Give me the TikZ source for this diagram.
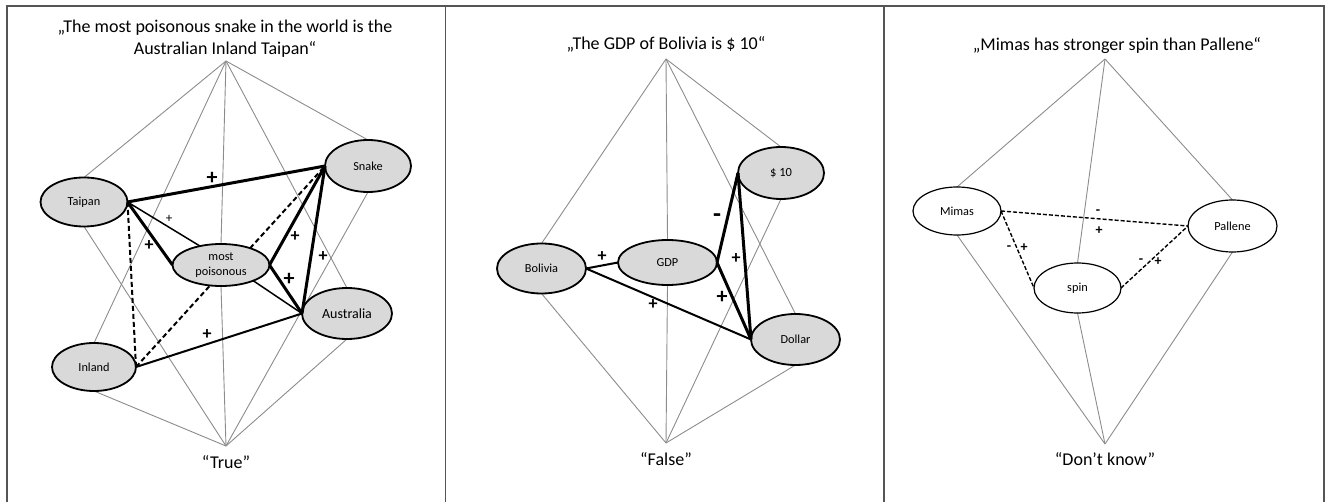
\documentclass[tikz,border=0pt]{standalone}
\usepackage{fontspec}
\setmainfont{Carlito}
\usetikzlibrary{shapes.geometric,backgrounds}
\definecolor{linkgray}{RGB}{140,140,140}
\definecolor{nodefill}{RGB}{217,217,217}
\definecolor{framegray}{RGB}{85,85,85}

\begin{document}
\begin{tikzpicture}[x=1pt,y=-1pt,
  concept/.style={ellipse, draw, line width=1.8pt, fill=nodefill, inner sep=0pt, outer sep=0pt,
    font=\fontsize{12.3}{14.5}\selectfont, align=center},
  plainconcept/.style={ellipse, draw, line width=1.2pt, fill=white, inner sep=0pt, outer sep=0pt,
    font=\fontsize{12.3}{14.5}\selectfont, align=center},
  headline/.style={inner sep=0pt, align=center, font=\fontsize{18}{22}\selectfont},
  verdict/.style={inner sep=0pt, font=\fontsize{18}{22}\selectfont},
  lnkgray/.style={draw=linkgray, line width=0.9pt},
  lnkthin/.style={draw=black, line width=1.5pt},
  lnkmed/.style={draw=black, line width=2pt},
  lnkthick/.style={draw=black, line width=3pt},
  lnkdash/.style={draw=black, line width=2pt, dash pattern=on 5pt off 3pt},
  lnkdashthin/.style={draw=black, line width=1.4pt, dash pattern=on 4pt off 2pt},
  sgnbig/.style={inner sep=0pt, font=\bfseries\fontsize{22}{22}\selectfont},
  sgnmed/.style={inner sep=0pt, font=\bfseries\fontsize{18}{18}\selectfont},
  sgnsmall/.style={inner sep=0pt, font=\fontsize{13}{13}\selectfont},
  sgnopen/.style={inner sep=0pt, font=\bfseries\fontsize{14}{14}\selectfont},
]
\useasboundingbox (0,0) rectangle (1325,502);

% frame and panel dividers
\draw[framegray, line width=1.6pt] (7,502) -- (7,6) -- (1324,6) -- (1324,502);
\draw[framegray, line width=1.6pt] (445.5,6) -- (445.5,502);
\draw[framegray, line width=1.6pt] (884,6) -- (884,502);

% ---------- panel 1 ----------
\node[headline] (h1) at (225,39) {„The most poisonous snake in the world is the\\Australian Inland Taipan“};
\coordinate (top1) at (226,61);
\coordinate (bot1) at (226,446);
\node[verdict] (v1) at (226,462) {“True”};

\node[concept, minimum width=87pt, minimum height=49pt] (taipan) at (84,202) {Taipan};
\node[concept, minimum width=86pt, minimum height=52pt] (snake) at (368,166) {Snake};
\node[concept, minimum width=97pt, minimum height=42pt] (mp) at (221,265) {most\\poisonous};
\node[concept, minimum width=90pt, minimum height=51pt, font=\fontsize{14}{16}\selectfont] (australia) at (347,313.5) {Australia};
\node[concept, minimum width=84pt, minimum height=48pt] (inland) at (94,367) {Inland};

\begin{scope}[on background layer]
  \foreach \n in {taipan,inland,mp,australia,snake} {
    \draw[lnkgray] (top1) -- (\n.north);
    \draw[lnkgray] (bot1) -- (\n.south);
  }
\end{scope}

\draw[lnkthick] (taipan.east) -- (snake.west);
\draw[lnkthin] (taipan.east) -- (mp.138);
\draw[lnkthick] (taipan.east) -- (mp.west);
\draw[lnkdash] (taipan.east) -- (inland.east);
\draw[lnkdash] (inland.east) -- (mp.242);
\draw[lnkdash] (mp.30) -- (snake.west);
\draw[lnkmed] (inland.east) -- (australia.west);
\draw[lnkthick] (mp.east) -- (snake.west);
\draw[lnkthick] (mp.east) -- (australia.west);
\draw[lnkthin] (mp.334) -- (australia.west);
\draw[lnkthick] (snake.west) -- (australia.west);

\node[sgnbig] (p1a) at (212,178) {+};
\node[sgnsmall] (p1b) at (169,219) {+};
\node[sgnmed] (p1c) at (149,246) {+};
\node[sgnmed] (p1d) at (295,237) {+};
\node[sgnbig] (p1e) at (289,279) {+};
\node[sgnmed] (p1f) at (323,257) {+};
\node[sgnmed] (p1g) at (207,335) {+};

% ---------- panel 2 ----------
\node[headline] (h2) at (666,44) {„The GDP of Bolivia is \$ 10“};
\coordinate (top2) at (666,59);
\coordinate (bot2) at (666,443);
\node[verdict] (v2) at (666,459) {“False”};

\node[concept, minimum width=89pt, minimum height=50pt] (bolivia) at (541.5,268.5) {Bolivia};
\node[concept, minimum width=99pt, minimum height=45pt] (gdp) at (667.5,262.5) {GDP};
\node[concept, minimum width=86pt, minimum height=52pt, font=\fontsize{12.5}{14}\selectfont] (ten) at (781,173) {\$ 10};
\node[concept, minimum width=89pt, minimum height=51pt] (dollar) at (795.5,339.5) {Dollar};

\begin{scope}[on background layer]
  \foreach \n in {bolivia,gdp,ten,dollar} {
    \draw[lnkgray] (top2) -- (\n.north);
    \draw[lnkgray] (bot2) -- (\n.south);
  }
\end{scope}

\draw[lnkmed] (bolivia.east) -- (gdp.west);
\draw[lnkmed] (bolivia.east) -- (dollar.west);
\draw[lnkthick] (gdp.east) -- (ten.west);
\draw[lnkthick] (gdp.east) -- (dollar.west);
\draw[lnkthick] (ten.west) -- (dollar.west);

\node[sgnmed] (p2a) at (602,257) {+};
\node[sgnmed] (p2b) at (653,305) {+};
\node[sgnbig, font=\bfseries\fontsize{26}{26}\selectfont] (p2c) at (717,218) {-};
\node[sgnbig] (p2d) at (722,297) {+};
\node[sgnmed] (p2e) at (736,259) {+};

% ---------- panel 3 ----------
\node[headline] (h3) at (1117,46) {„Mimas has stronger spin than Pallene“};
\coordinate (top3) at (1105,59);
\coordinate (bot3) at (1105,444);
\node[verdict] (v3) at (1105,459) {“Don’t know”};

\node[plainconcept, minimum width=88pt, minimum height=48pt] (mimas) at (957,211) {Mimas};
\node[plainconcept, minimum width=89pt, minimum height=52pt] (pallene) at (1232.5,226) {Pallene};
\node[plainconcept, minimum width=87pt, minimum height=50pt] (spin) at (1077.5,288) {spin};

\begin{scope}[on background layer]
  \foreach \n in {mimas,spin,pallene} {
    \draw[lnkgray] (top3) -- (\n.north);
    \draw[lnkgray] (bot3) -- (\n.south);
  }
\end{scope}

\draw[lnkdashthin] (mimas.east) -- (pallene.west);
\draw[lnkdashthin] (mimas.east) -- (spin.west);
\draw[lnkdashthin] (spin.east) -- (pallene.west);

\node[sgnopen] (p3a) at (1098,212) {-};
\node[sgnopen] (p3b) at (1099,231) {+};
\node[sgnopen] (p3c) at (1009,248) {-};
\node[sgnopen] (p3d) at (1024,248) {+};
\node[sgnopen] (p3e) at (1141,261) {-};
\node[sgnopen] (p3f) at (1158,262) {+};
\end{tikzpicture}
\end{document}
